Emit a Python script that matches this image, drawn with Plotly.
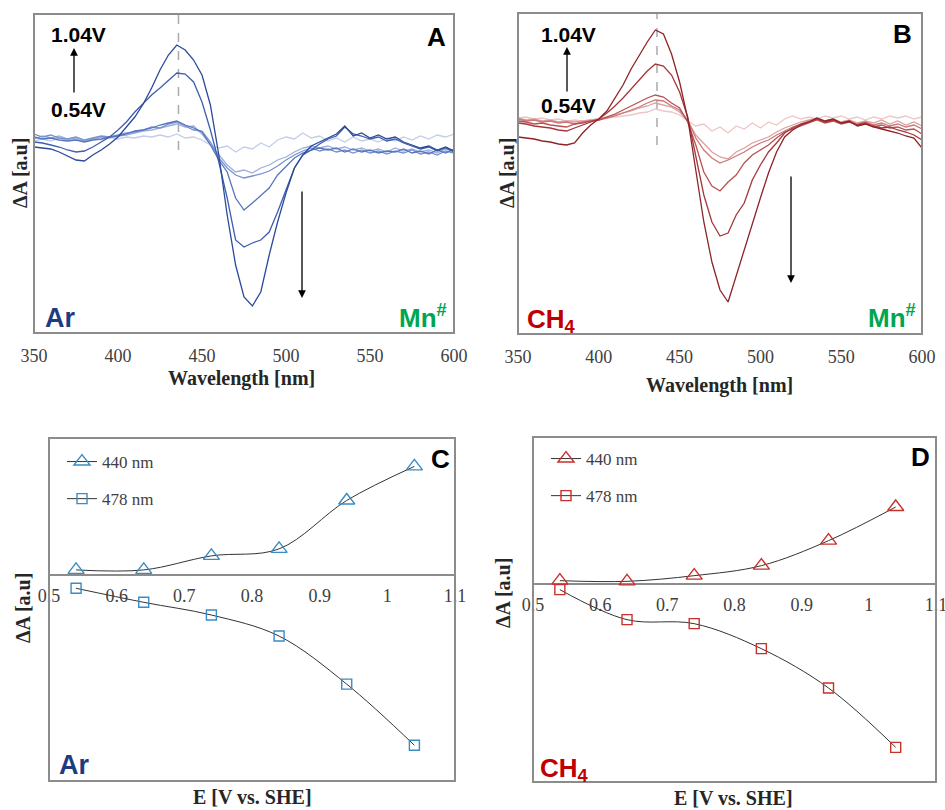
import plotly.graph_objects as go

W, H = 945, 810

# ---------------- data ----------------
WAVELENGTH = list(range(350, 601, 5))
POTENTIAL_LABELS = ["0.54 V", "0.64 V", "0.74 V", "0.84 V", "0.94 V", "1.04 V"]

# Panel A (Ar) difference spectra, arbitrary units (x1e-3)
ar_054 = [2, 4, 2, 5, 3, 4, 2, 5, 3, 6, 4, 6, 5, 7, 6, 8, 6, 9, 5, 6, 3, -2, -5, -3, -9, -4,
          -6, 0, -4, 3, 6, 4, 10, 5, 7, 2, 5, 1, 6, 2, 4, 1, 5, 2, 6, 3, 7, 4, 8, 6, 9]
ar_064 = [4, 7, 5, 7, 4, 5, 2, 4, 6, 5, 7, 8, 10, 12, 13, 15, 17, 19, 16, 17, 9, -1, -12, -22, -29, -27,
          -30, -25, -22, -17, -14, -9, -5, -3, -5, -3, -6, -4, -7, -5, -8, -6, -9, -5, -8, -6, -9, -7, -10, -6, -8]
ar_074 = [9, 6, 8, 5, 4, 6, 3, 5, 7, 6, 8, 10, 11, 13, 16, 15, 19, 21, 17, 13, 12, 1, -15, -25, -32, -35,
          -33, -31, -28, -23, -17, -12, -8, -5, -8, -6, -9, -7, -10, -7, -10, -8, -11, -8, -10, -7, -11, -9, -12, -8, -10]
ar_084 = [6, 4, 5, 3, 2, 3, 1, 3, 4, 6, 7, 9, 12, 13, 15, 18, 20, 22, 18, 15, 11, -2, -17, -29, -55, -67,
          -60, -52, -45, -32, -24, -15, -10, -7, -5, -7, -5, -9, -6, -9, -7, -10, -8, -9, -6, -10, -8, -11, -7, -10, -6]
ar_094 = [1, 0, -2, -4, -7, -9, -8, -4, 1, 6, 13, 21, 31, 40, 48, 55, 63, 70, 69, 61, 41, 13, -19, -55, -97, -104,
          -100, -97, -89, -69, -47, -25, -12, -7, -1, 4, 7, 16, 9, 7, 4, 6, 2, 4, 0, -3, -6, -4, -8, -5, -9]
ar_104 = [-4, -5, -6, -9, -13, -17, -18, -12, -7, -1, 6, 16, 26, 39, 55, 73, 88, 98, 93, 83, 68, 38, -12, -72, -122, -154,
          -163, -149, -112, -79, -50, -25, -12, -3, 1, 5, 9, 17, 7, 10, 5, 8, 4, 6, 1, -2, -5, -3, -7, -4, -8]

# Panel B (CH4) difference spectra, arbitrary units (x1e-3)
ch4_054 = [2, 3, 1, 2, 0, 1, -1, 0, -1, 0, 1, 2, 3, 4, 5, 7, 8, 11, 9, 8, 5, -1, -6, -4, -11, -7,
           -13, -6, -9, -3, -8, -2, -5, 1, 4, 1, 3, 1, 4, 2, 4, 1, 3, 0, 3, 1, 4, 2, 4, 1, 3]
ch4_064 = [2, 0, 1, -1, 0, -2, -1, -2, -1, 0, 1, 3, 5, 7, 9, 12, 14, 17, 15, 13, 8, -1, -15, -23, -32, -37,
           -39, -32, -28, -23, -20, -17, -12, -8, -5, -2, 0, 2, -1, 1, -2, 0, -3, -1, -3, 0, -4, -1, -5, -2, -6]
ch4_074 = [1, -1, 0, -2, -1, -3, -2, -4, -2, -1, 0, 2, 4, 7, 10, 13, 17, 20, 19, 14, 10, 0, -18, -30, -38, -43,
           -40, -36, -32, -27, -23, -20, -15, -11, -7, -4, -1, 1, -2, 0, -3, -1, -4, -2, -5, -3, -6, -4, -7, -5, -9]
ch4_084 = [-1, -2, -4, -3, -5, -6, -7, -4, -3, -1, 0, 3, 6, 10, 14, 18, 22, 25, 23, 17, 12, -2, -25, -52, -66, -71,
           -62, -55, -43, -35, -30, -25, -18, -12, -9, -6, -3, 0, -3, -1, -4, -2, -5, -4, -7, -5, -8, -7, -10, -9, -14]
ch4_094 = [-3, -4, -6, -7, -8, -10, -11, -8, -5, -2, 1, 7, 14, 22, 31, 40, 49, 56, 54, 45, 28, 3, -35, -75, -102, -116,
           -113, -95, -83, -60, -45, -32, -23, -13, -8, -4, -2, 1, -2, 0, -3, -2, -5, -3, -6, -8, -7, -10, -12, -15, -20]
ch4_104 = [-17, -18, -19, -21, -22, -24, -25, -23, -13, -5, 1, 9, 22, 35, 51, 65, 78, 90, 86, 66, 38, 2, -50, -102, -142, -170,
           -182, -156, -130, -102, -78, -53, -32, -17, -10, -5, -2, 2, -1, 1, -3, -1, -6, -4, -7, -9, -11, -13, -16, -18, -28]

# Panels C / D : signal at the two wavelengths vs potential
E_VS_SHE = [0.54, 0.64, 0.74, 0.84, 0.94, 1.04]
ar_440nm = [0.015, 0.015, 0.057, 0.078, 0.223, 0.325]
ar_478nm = [-0.040, -0.082, -0.120, -0.183, -0.327, -0.510]
ch4_440nm = [0.010, 0.008, 0.025, 0.055, 0.130, 0.231]
ch4_478nm = [-0.017, -0.107, -0.119, -0.194, -0.312, -0.490]

X_TICKS_SPEC = [350, 400, 450, 500, 550, 600]
X_TICKS_E = [0.5, 0.6, 0.7, 0.8, 0.9, 1.0, 1.1]
X_TICKTEXT_E = ["0.5", "0.6", "0.7", "0.8", "0.9", "1", "1.1"]
PEAK_NM = 436

# ---------------- styling ----------------
BLUES = ["#C3CDEA", "#9CAFDC", "#7891CD", "#5775BE", "#3F5EAE", "#2C4A9B"]
REDS = ["#EEC6C6", "#DDA0A0", "#CB7878", "#B95153", "#A5363A", "#8E2327"]
FRAME = "#8C8C8C"
SANS = "Liberation Sans"
SERIF = "Liberation Serif"
TICKCOL = "#404040"


def px(x):
    return x / W


def py(y):
    return 1 - y / H


DOM = {
    "A": ([px(34), px(454)], [py(333), py(14)]),
    "B": ([px(518), px(922)], [py(334), py(13)]),
    "C": ([px(49), px(455)], [py(781), py(438)]),
    "D": ([px(533), px(936)], [py(782), py(437)]),
}
RANGE_A = [-190, 129]
RANGE_B = [-214, 107]
RANGE_C = [-0.617, 0.41]
RANGE_D = [-0.594, 0.441]

fig = go.Figure()

spec_a = [ar_054, ar_064, ar_074, ar_084, ar_094, ar_104]
spec_b = [ch4_054, ch4_064, ch4_074, ch4_084, ch4_094, ch4_104]
for lbl, ys, c in zip(POTENTIAL_LABELS, spec_a, BLUES):
    fig.add_trace(go.Scatter(x=WAVELENGTH, y=ys, mode="lines", name=lbl, showlegend=False,
                             line=dict(color=c, width=1.3), xaxis="x", yaxis="y"))
for lbl, ys, c in zip(POTENTIAL_LABELS, spec_b, REDS):
    fig.add_trace(go.Scatter(x=WAVELENGTH, y=ys, mode="lines", name=lbl, showlegend=False,
                             line=dict(color=c, width=1.3), xaxis="x2", yaxis="y2"))

C_MARK = "#3A8CC4"
D_MARK = "#C8302C"
for name, ys, sym, sz, col, xa, ya, leg in [
    ("440 nm", ar_440nm, "triangle-up-open", 14, C_MARK, "x3", "y3", "legend"),
    ("478 nm", ar_478nm, "square-open", 10, C_MARK, "x3", "y3", "legend"),
    ("440 nm", ch4_440nm, "triangle-up-open", 14, D_MARK, "x4", "y4", "legend2"),
    ("478 nm", ch4_478nm, "square-open", 10, D_MARK, "x4", "y4", "legend2"),
]:
    fig.add_trace(go.Scatter(
        x=E_VS_SHE, y=ys, mode="lines+markers", name=name, legend=leg, legendgroup=leg + name,
        line=dict(color="#333333", width=1, shape="spline"),
        marker=dict(symbol=sym, size=sz, color=col, line=dict(color=col, width=1.4)),
        xaxis=xa, yaxis=ya))


def zero_pos(dom_y, rng):
    return dom_y[0] + (0 - rng[0]) / (rng[1] - rng[0]) * (dom_y[1] - dom_y[0])


tickfont = dict(family=SERIF, size=18, color=TICKCOL)
common_y = dict(showticklabels=False, showgrid=False, ticks="", fixedrange=True, automargin=False)
common_x = dict(showgrid=False, zeroline=False, ticks="", tickfont=tickfont, automargin=False,
                ticklabeloverflow="allow")

layout = dict(
    width=W, height=H, margin=dict(l=0, r=0, t=0, b=0, autoexpand=False),
    paper_bgcolor="white", plot_bgcolor="white",
    xaxis=dict(domain=DOM["A"][0], anchor="y", range=[350, 600], tickvals=X_TICKS_SPEC,
               ticklabelstandoff=10, **common_x),
    yaxis=dict(domain=DOM["A"][1], anchor="x", range=RANGE_A, zeroline=False, **common_y),
    xaxis2=dict(domain=DOM["B"][0], anchor="y2", range=[350, 600], tickvals=X_TICKS_SPEC,
                ticklabelstandoff=10, **common_x),
    yaxis2=dict(domain=DOM["B"][1], anchor="x2", range=RANGE_B, zeroline=False, **common_y),
    xaxis3=dict(domain=DOM["C"][0], anchor="free", position=zero_pos(DOM["C"][1], RANGE_C),
                range=[0.5, 1.1], tickvals=X_TICKS_E, ticktext=X_TICKTEXT_E, showline=False,
                ticklabelstandoff=8, **common_x),
    yaxis3=dict(domain=DOM["C"][1], anchor="x3", range=RANGE_C, zeroline=True,
                zerolinecolor=FRAME, zerolinewidth=2, **common_y),
    xaxis4=dict(domain=DOM["D"][0], anchor="free", position=zero_pos(DOM["D"][1], RANGE_D),
                range=[0.5, 1.1], tickvals=X_TICKS_E, ticktext=X_TICKTEXT_E, showline=False,
                ticklabelstandoff=8, **common_x),
    yaxis4=dict(domain=DOM["D"][1], anchor="x4", range=RANGE_D, zeroline=True,
                zerolinecolor=FRAME, zerolinewidth=2, **common_y),
    legend=dict(x=px(62), y=py(444), xanchor="left", yanchor="top", bgcolor="rgba(0,0,0,0)",
                font=dict(family=SERIF, size=17, color=TICKCOL), tracegroupgap=12),
    legend2=dict(x=px(546), y=py(441), xanchor="left", yanchor="top", bgcolor="rgba(0,0,0,0)",
                 font=dict(family=SERIF, size=17, color=TICKCOL), tracegroupgap=12),
    showlegend=True,
)
fig.update_layout(**layout)

shapes = []
for k, (xa, ya) in zip("ABCD", [("x", "y"), ("x2", "y2"), ("x3", "y3"), ("x4", "y4")]):
    shapes.append(dict(type="rect", xref=xa + " domain", yref=ya + " domain", x0=0, x1=1, y0=0, y1=1,
                       line=dict(color=FRAME, width=2), layer="above"))
shapes.append(dict(type="line", xref="x", yref="y", x0=PEAK_NM, x1=PEAK_NM, y0=-7, y1=RANGE_A[1],
                   line=dict(color="#AAAAAA", width=1.5, dash="dash"), layer="below"))
shapes.append(dict(type="line", xref="x2", yref="y2", x0=PEAK_NM, x1=PEAK_NM, y0=-25, y1=RANGE_B[1],
                   line=dict(color="#AAAAAA", width=1.5, dash="dash"), layer="below"))
fig.update_layout(shapes=shapes)

ann = []


def text(t, x, y, size, color="black", family=SANS, bold=True, xanchor="center", angle=0):
    ann.append(dict(text=(f"<b>{t}</b>" if bold else t), x=px(x), y=py(y), xref="paper", yref="paper",
                    showarrow=False, xanchor=xanchor, yanchor="middle", textangle=angle,
                    font=dict(family=family, size=size, color=color)))


def arrow(x, y_head, dy):
    ann.append(dict(text="", x=px(x), y=py(y_head), xref="paper", yref="paper", ax=0, ay=dy,
                    showarrow=True, arrowhead=2, arrowsize=1.2, arrowwidth=1.3, arrowcolor="black",
                    standoff=0, startstandoff=0))


# panel letters
text("A", 436, 37, 26)
text("B", 902, 34, 26)
text("C", 440, 459, 26)
text("D", 920, 457, 26)
# potential labels + arrows
text("1.04V", 78, 35, 21)
text("0.54V", 78, 110, 21)
text("1.04V", 568, 35, 21)
text("0.54V", 568, 105, 21)
arrow(74, 48, 46)
arrow(567, 47, 46)
arrow(302, 298, -108)
arrow(791, 283, -108)
# gas / species labels
NAVY = "#1F3B80"
DARKRED = "#C00000"
GREEN = "#00A651"
text("Ar", 43, 318, 27, NAVY, xanchor="left")
text("Mn<sup>#</sup>", 449, 316, 26, GREEN, xanchor="right")
text("CH<sub>4</sub>", 525, 320, 26, DARKRED, xanchor="left")
text("Mn<sup>#</sup>", 918, 316, 26, GREEN, xanchor="right")
text("Ar", 57, 765, 27, NAVY, xanchor="left")
text("CH<sub>4</sub>", 538, 769, 26, DARKRED, xanchor="left")
# axis titles
text("Wavelength [nm]", 241, 378, 20, "#262626", SERIF)
text("Wavelength [nm]", 719, 385, 20, "#262626", SERIF)
text("ΔA [a.u]", 20, 173, 20, "#262626", SERIF, angle=-90)
text("ΔA [a.u]", 507, 173, 20, "#262626", SERIF, angle=-90)
text("ΔA [a.u]", 23, 608, 20, "#262626", SERIF, angle=-90)
text("ΔA [a.u]", 503, 593, 20, "#262626", SERIF, angle=-90)
text("E [V vs. SHE]", 252, 797, 20, "#262626", SERIF)
text("E [V vs. SHE]", 733, 798, 20, "#262626", SERIF)

fig.update_layout(annotations=ann)
fig.write_html("out.html", config={"displayModeBar": False},
               post_script="document.body.style.margin='0';document.body.style.overflow='hidden';")
